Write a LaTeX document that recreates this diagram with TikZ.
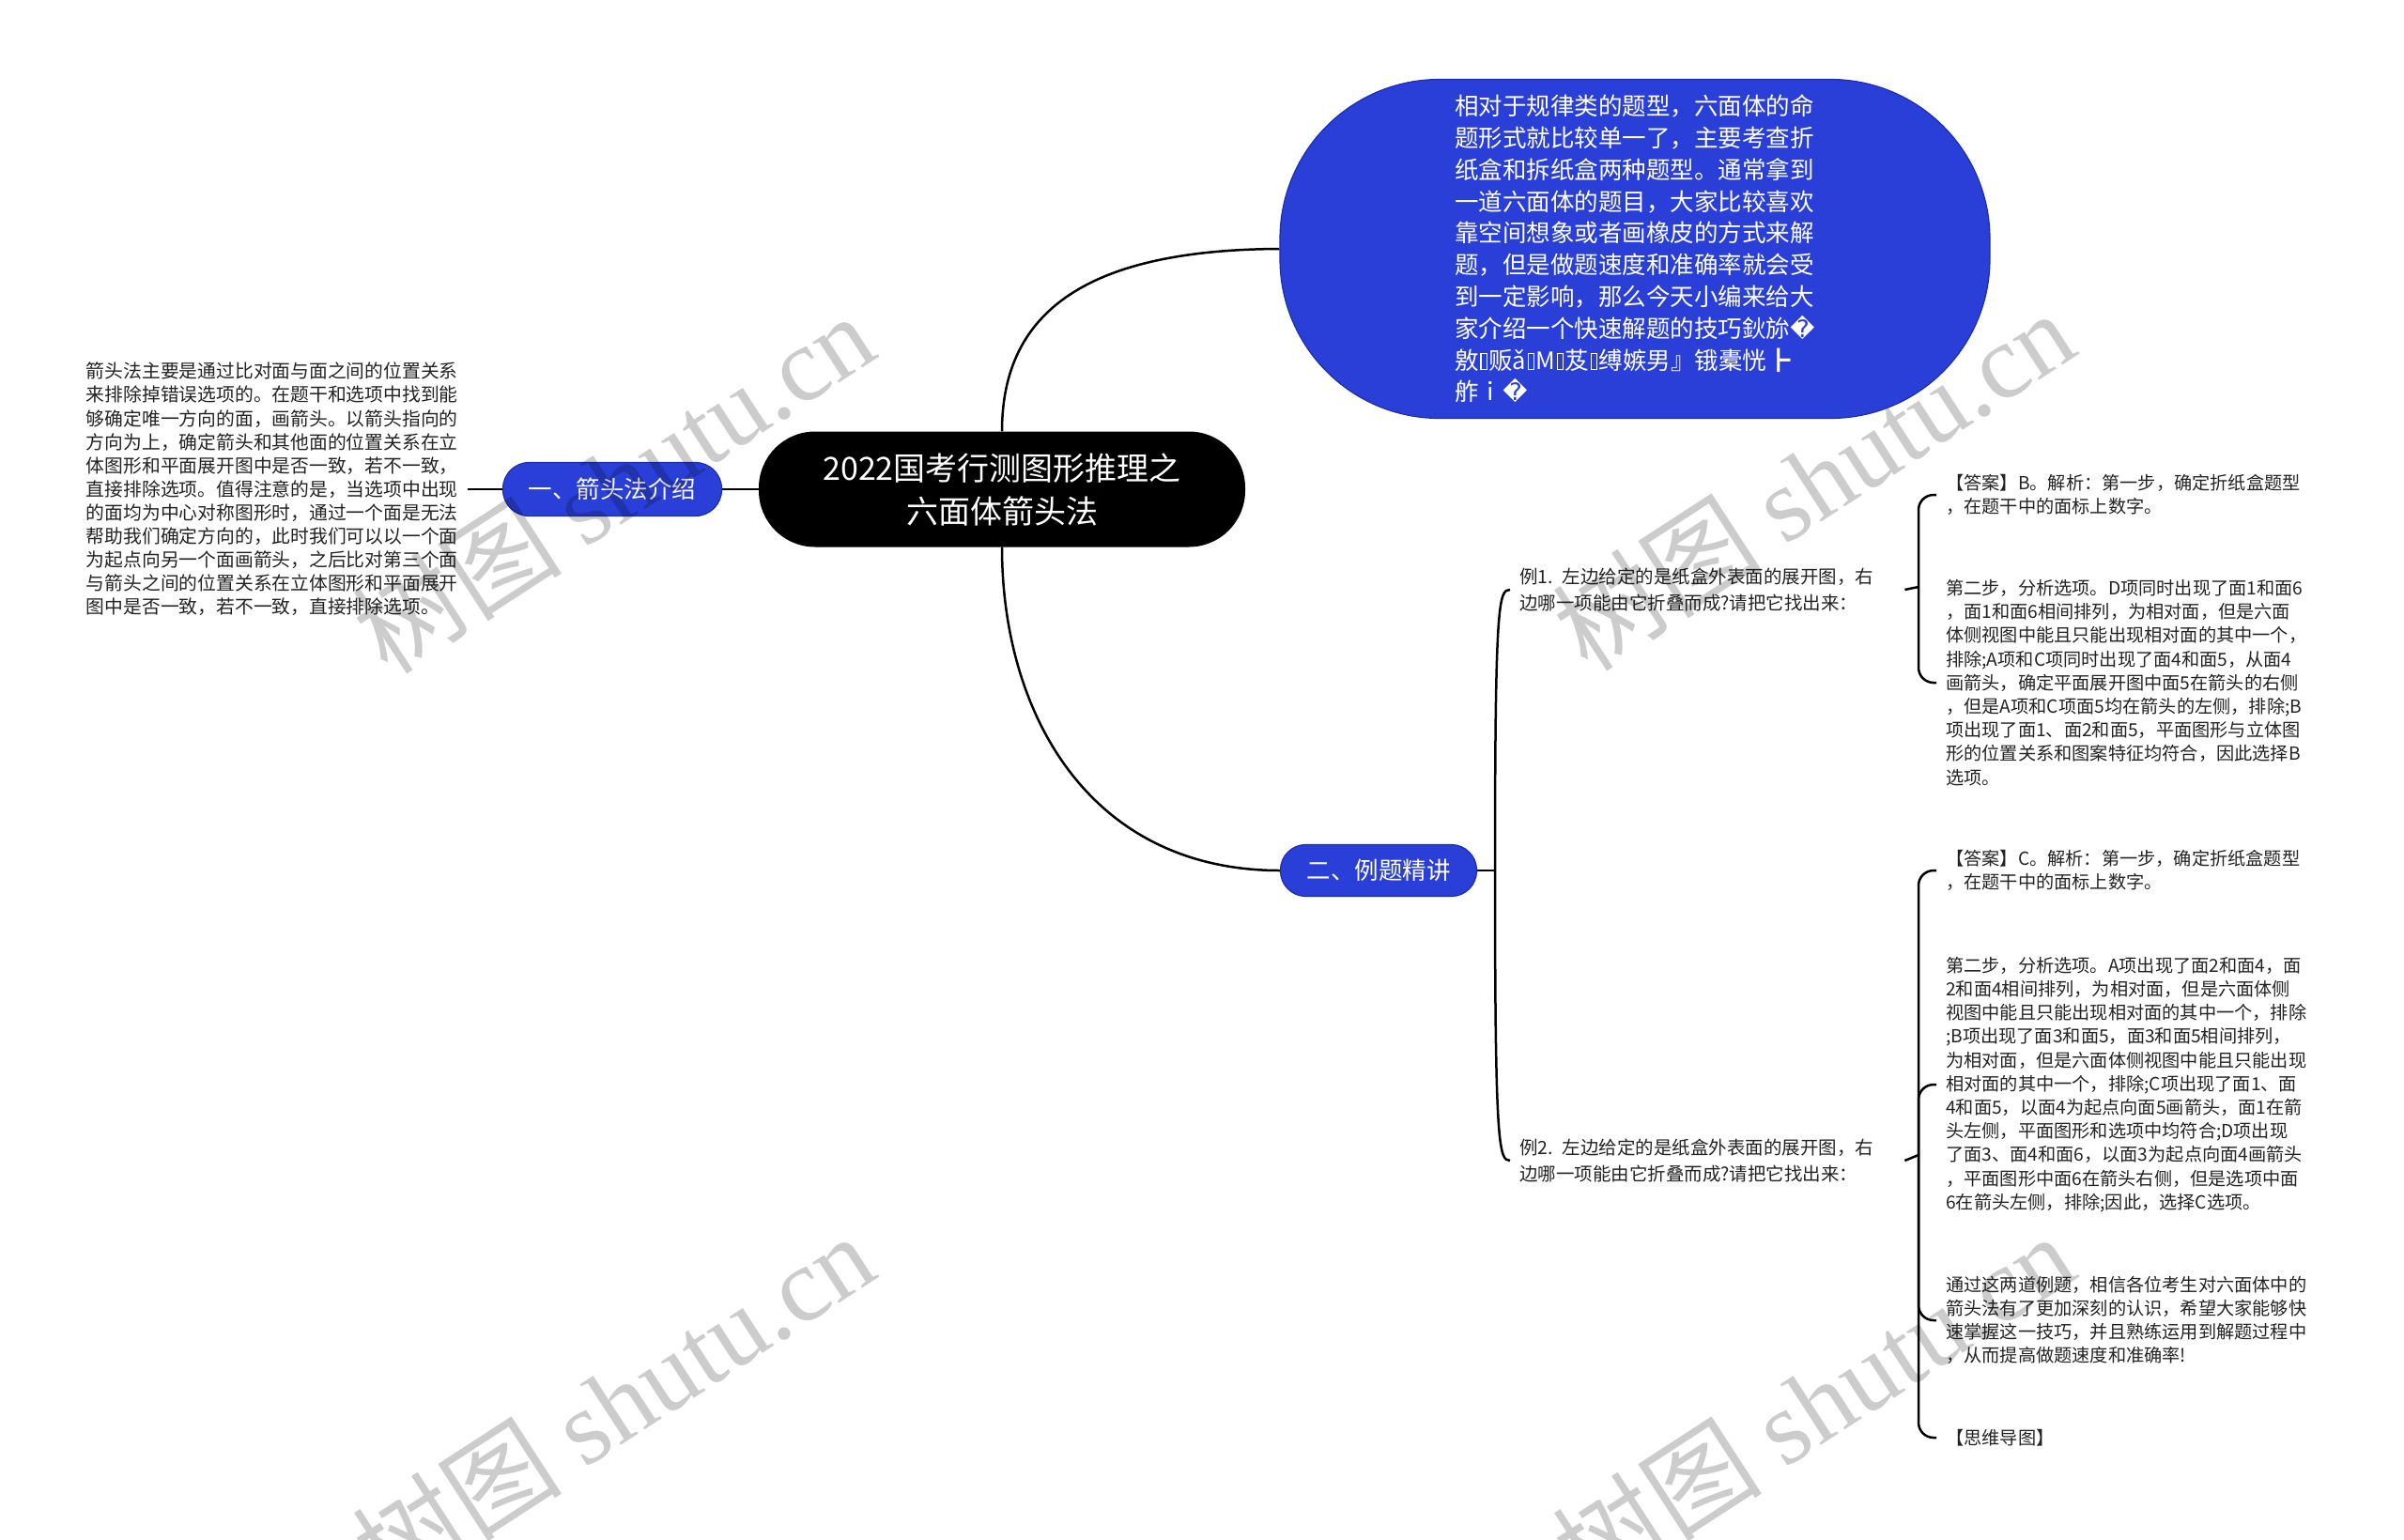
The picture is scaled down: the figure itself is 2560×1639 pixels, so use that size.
\documentclass[tikz,border=0pt]{standalone}
\usepackage{fontspec}
\setmainfont{Noto Sans CJK SC}
\newfontfamily\badfont{DejaVu Sans}
\newfontfamily\markfont{Liberation Serif}
\newcommand{\badchar}{{\badfont\symbol{"FFFD}}}
\newcommand{\tofu}{\kern1.5pt{\setlength{\fboxsep}{0pt}\setlength{\fboxrule}{1.2pt}\fbox{\rule{0pt}{16pt}\hspace{5pt}}}\kern1.5pt}
\definecolor{topicblue}{RGB}{41,63,216}
\definecolor{topicedge}{RGB}{30,45,175}
\definecolor{notegray}{RGB}{34,34,34}

\begin{document}
\begin{tikzpicture}[x=1pt,y=-1pt]
      \useasboundingbox (0,0) rectangle (2560,1639);

      \node[fill=black,rounded corners=60pt,minimum width=518pt,minimum height=123pt,
            text=white,align=center,font=\fontsize{34}{46}\selectfont] (root) at (1067,521)
            {2022国考行测图形推理之\\六面体箭头法};

      \begin{scope}[every node/.style={fill=topicblue,draw=topicedge,line width=1.2pt,text=white}]
        \node[rounded corners=170pt,minimum width=756pt,minimum height=361pt,align=left,
              font=\fontsize{25.5}{33.8}\selectfont] (lead) at (1741,265)
              {相对于规律类的题型，六面体的命\\
               题形式就比较单一了，主要考查折\\
               纸盒和拆纸盒两种题型。通常拿到\\
               一道六面体的题目，大家比较喜欢\\
               靠空间想象或者画橡皮的方式来解\\
               题，但是做题速度和准确率就会受\\
               到一定影响，那么今天小编来给大\\
               家介绍一个快速解题的技巧鈥旀\badchar\\
               敫\tofu 贩ǎ\tofu M\tofu 芨\tofu 缚嫉男』锇橐恍┣\\
               舴ｉ\badchar};
        \node[rounded corners=28pt,minimum width=233pt,minimum height=57pt,
              font=\fontsize{25.5}{30}\selectfont] (method) at (652,521) {一、箭头法介绍};
        \node[rounded corners=27pt,minimum width=209pt,minimum height=55pt,
              font=\fontsize{25.5}{30}\selectfont] (examples) at (1468,927) {二、例题精讲};
      \end{scope}

      \begin{scope}[every node/.style={text=notegray,align=left,inner xsep=10pt,inner ysep=4pt}]
        \node[anchor=east,font=\fontsize{19.8}{25.1}\selectfont] (methodnote) at (498,521)
              {箭头法主要是通过比对面与面之间的位置关系\\
               来排除掉错误选项的。在题干和选项中找到能\\
               够确定唯一方向的面，画箭头。以箭头指向的\\
               方向为上，确定箭头和其他面的位置关系在立\\
               体图形和平面展开图中是否一致，若不一致，\\
               直接排除选项。值得注意的是，当选项中出现\\
               的面均为中心对称图形时，通过一个面是无法\\
               帮助我们确定方向的，此时我们可以以一个面\\
               为起点向另一个面画箭头，之后比对第三个面\\
               与箭头之间的位置关系在立体图形和平面展开\\
               图中是否一致，若不一致，直接排除选项。};
        \node[anchor=west,text width=400pt,font=\fontsize{19.5}{27.5}\selectfont] (ex1) at (1608,628)
              {例1. 左边给定的是纸盒外表面的展开图，右\\边哪一项能由它折叠而成?请把它找出来：};
        \node[anchor=west,text width=400pt,font=\fontsize{19.5}{27.5}\selectfont] (ex2) at (1608,1236)
              {例2. 左边给定的是纸盒外表面的展开图，右\\边哪一项能由它折叠而成?请把它找出来：};
      \end{scope}

      \begin{scope}[every node/.style={text=notegray,align=left,anchor=west,inner xsep=10pt,
                    font=\fontsize{19.2}{25.2}\selectfont}]
        \node (answer1) at (2062,527)
              {【答案】B。解析：第一步，确定折纸盒题型\\，在题干中的面标上数字。};
        \node (step1) at (2062,727)
              {第二步，分析选项。D项同时出现了面1和面6\\
               ，面1和面6相间排列，为相对面，但是六面\\
               体侧视图中能且只能出现相对面的其中一个，\\
               排除;A项和C项同时出现了面4和面5，从面4\\
               画箭头，确定平面展开图中面5在箭头的右侧\\
               ，但是A项和C项面5均在箭头的左侧，排除;B\\
               项出现了面1、面2和面5，平面图形与立体图\\
               形的位置关系和图案特征均符合，因此选择B\\
               选项。};
        \node (answer2) at (2062,927)
              {【答案】C。解析：第一步，确定折纸盒题型\\，在题干中的面标上数字。};
        \node (step2) at (2062,1155)
              {第二步，分析选项。A项出现了面2和面4，面\\
               2和面4相间排列，为相对面，但是六面体侧\\
               视图中能且只能出现相对面的其中一个，排除\\
               ;B项出现了面3和面5，面3和面5相间排列，\\
               为相对面，但是六面体侧视图中能且只能出现\\
               相对面的其中一个，排除;C项出现了面1、面\\
               4和面5，以面4为起点向面5画箭头，面1在箭\\
               头左侧，平面图形和选项中均符合;D项出现\\
               了面3、面4和面6，以面3为起点向面4画箭头\\
               ，平面图形中面6在箭头右侧，但是选项中面\\
               6在箭头左侧，排除;因此，选择C选项。};
        \node (summary) at (2062,1406)
              {通过这两道例题，相信各位考生对六面体中的\\
               箭头法有了更加深刻的认识，希望大家能够快\\
               速掌握这一技巧，并且熟练运用到解题过程中\\
               ，从而提高做题速度和准确率!};
        \node (mapnote) at (2062,1531) {【思维导图】};
      \end{scope}

      \coordinate (fork) at (1592,927);
      \coordinate (fork1) at (2043,625);
      \coordinate (fork2) at (2043,1230);

      \begin{scope}[every edge/.style={draw,line width=2.5pt}]
        \path (root) edge (method);
        \path (method) edge (methodnote);
        \path (examples) edge (fork);
        \path (ex1.east) edge (fork1);
        \path (ex2.east) edge (fork2);
      \end{scope}

      \begin{scope}[line width=2.5pt]
        \draw (root.north) .. controls (1067,330) and (1160,266) .. (lead.west);
        \draw (root.south) .. controls (1067,760) and (1160,927) .. (examples.west);
        \draw (fork) .. controls (1592,640) and (1596,628) .. (ex1.west);
        \draw (fork) .. controls (1592,1220) and (1596,1236) .. (ex2.west);
      \end{scope}

      \begin{scope}[line width=2.5pt,rounded corners=16pt]
        \draw (fork1) |- (answer1.west);
        \draw (fork1) |- (step1.west);
        \draw (fork2) |- (answer2.west);
        \draw (fork2) |- (step2.west);
        \draw (fork2) |- (summary.west);
        \draw (fork2) |- (mapnote.west);
      \end{scope}

      \begin{scope}[every node/.style={text=black,text opacity=0.2,rotate=33,
                    font=\fontsize{112}{112}\selectfont}]
        \node (mark1) at (653,514) {树图 {\markfont shutu.cn}};
        \node (mark2) at (1931,511) {树图 {\markfont shutu.cn}};
        \node (mark3) at (653,1494) {树图 {\markfont shutu.cn}};
        \node (mark4) at (1931,1494) {树图 {\markfont shutu.cn}};
      \end{scope}

\end{tikzpicture}
\end{document}
